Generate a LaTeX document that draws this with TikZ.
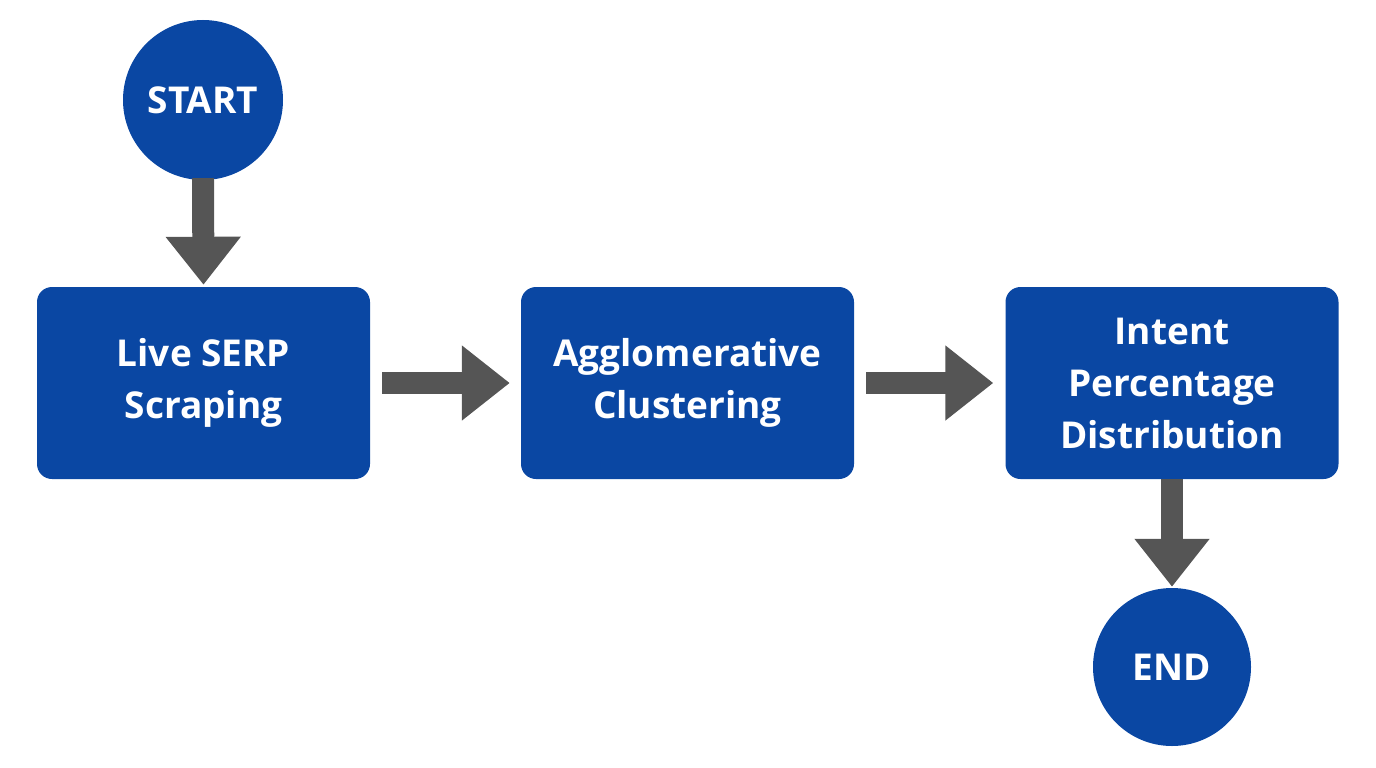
\documentclass[tikz,border=0pt]{standalone}
\usepackage{fontspec}
\setmainfont{Open Sans}
\usetikzlibrary{arrows.meta}
\definecolor{nblue}{HTML}{0A47A3}
\definecolor{agray}{HTML}{555555}
\begin{document}
\begin{tikzpicture}[x=1pt,y=-1pt,
  txt/.style={text=white,font=\fontsize{37}{52}\selectfont\bfseries,align=center},
  circ/.style={circle,fill=nblue,minimum size=160pt,inner sep=0pt,txt},
  box/.style={rectangle,rounded corners=15pt,fill=nblue,minimum width=333pt,minimum height=192pt,inner sep=0pt,txt},
  arr/.style={draw=agray,line width=22pt,-{Triangle[length=48pt,width=72pt]}}]
\useasboundingbox (0,0) rectangle (1376,768);
\node[circ] (start) at (203,100) {START};
\node[box] (b1) at (203.5,383) {Live SERP\\Scraping};
\node[box] (b2) at (687.5,383) {Agglomerative\\Clustering};
\node[box] (b3) at (1172,383) {Intent\\Percentage\\Distribution};
\node[circ,minimum size=158pt] (end) at (1172,667) {END};
\draw[arr,shorten <=-2pt,shorten >=2pt] (start.south) -- (b1.north);
\draw[arr,shorten <=12pt,shorten >=11pt] (b1.east) -- (b2.west);
\draw[arr,shorten <=12pt,shorten >=12pt] (b2.east) -- (b3.west);
\draw[arr,shorten <=0pt,shorten >=1pt] (b3.south) -- (end.north);
\end{tikzpicture}
\end{document}
